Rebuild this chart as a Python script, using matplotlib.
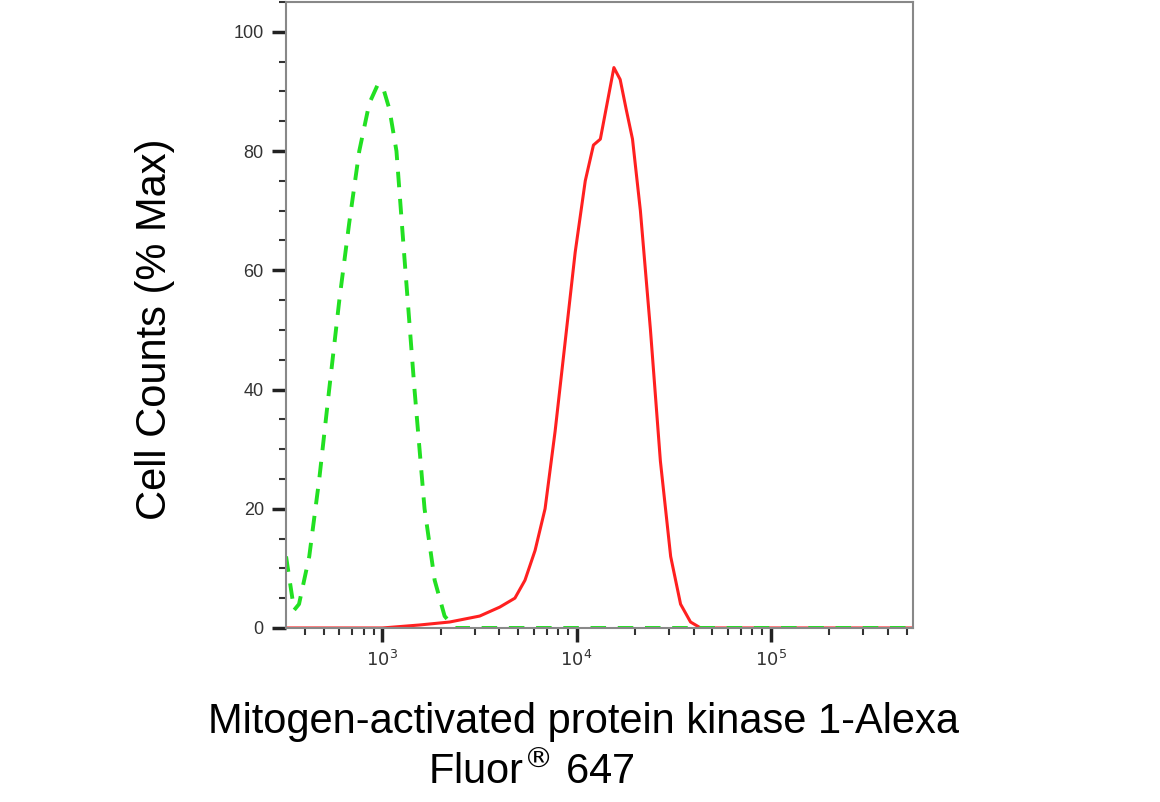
import numpy as np
import matplotlib.pyplot as plt
from matplotlib.ticker import LogLocator, MultipleLocator, FixedLocator

plt.rcParams['font.family'] = ['Liberation Sans', 'DejaVu Sans']

# isotype control (green dashed)
ctrl_x = [319, 351, 372, 420, 473, 532, 600, 675, 760, 856, 942, 1000, 1087,
          1181, 1299, 1463, 1648, 1858, 2090, 2355, 3000, 10000, 100000, 540000]
ctrl_y = [12, 3, 4, 12, 25, 40, 55, 68, 80, 88, 91, 91, 87,
          80, 62, 40, 20, 8, 2, 0, 0, 0, 0, 0]

# stained sample (red solid)
stain_x = [319, 1000, 1553, 2220, 3170, 4020, 4810, 5420, 6110, 6880, 7750, 8730,
           9830, 11080, 12210, 13250, 14360, 15560, 16760, 18000, 19400, 21300,
           24000, 27000, 30500, 34300, 38600, 43500, 540000]
stain_y = [0, 0, 0.5, 1, 2, 3.5, 5, 8, 13, 20, 33, 48,
           63, 75, 81, 82, 88, 94, 92, 87, 82, 70,
           50, 28, 12, 4, 1, 0, 0]

fig = plt.figure(figsize=(11.6, 8.02), dpi=100)
ax = fig.add_axes([0.2466, 0.217, 0.5405, 0.7805])

ax.plot(stain_x, stain_y, color='#ff2020', lw=2.2)
ax.plot(ctrl_x, ctrl_y, color='#22e022', lw=2.8, ls=(0, (4, 3)))

ax.set_xscale('log')
ax.set_xlim(319, 540000)
ax.set_ylim(0, 105)

ax.xaxis.set_major_locator(FixedLocator([1e3, 1e4, 1e5]))
ax.xaxis.set_minor_locator(LogLocator(base=10, subs=np.arange(2, 10)))
ax.xaxis.set_minor_formatter(plt.NullFormatter())
ax.set_xticklabels([r'$10^3$', r'$10^4$', r'$10^5$'])
ax.yaxis.set_major_locator(MultipleLocator(20))
ax.yaxis.set_minor_locator(MultipleLocator(5))

ax.tick_params(which='major', length=10, width=2.5, color='#222222',
               labelsize=13, labelcolor='#333333', pad=6)
ax.tick_params(which='minor', length=5, width=1.5, color='#333333')
for s in ax.spines.values():
    s.set_color('#888888')
    s.set_linewidth(1.5)

fig.text(0.134, 0.59, 'Cell Counts (% Max)', rotation=90, ha='center', va='center', fontsize=30)
fig.text(0.503, 0.10, 'Mitogen-activated protein kinase 1-Alexa', ha='center', va='center', fontsize=30)
fig.text(0.369, 0.037, 'Fluor$^{®}$ 647', ha='left', va='center', fontsize=30)

fig.savefig('out.png', dpi=100)
